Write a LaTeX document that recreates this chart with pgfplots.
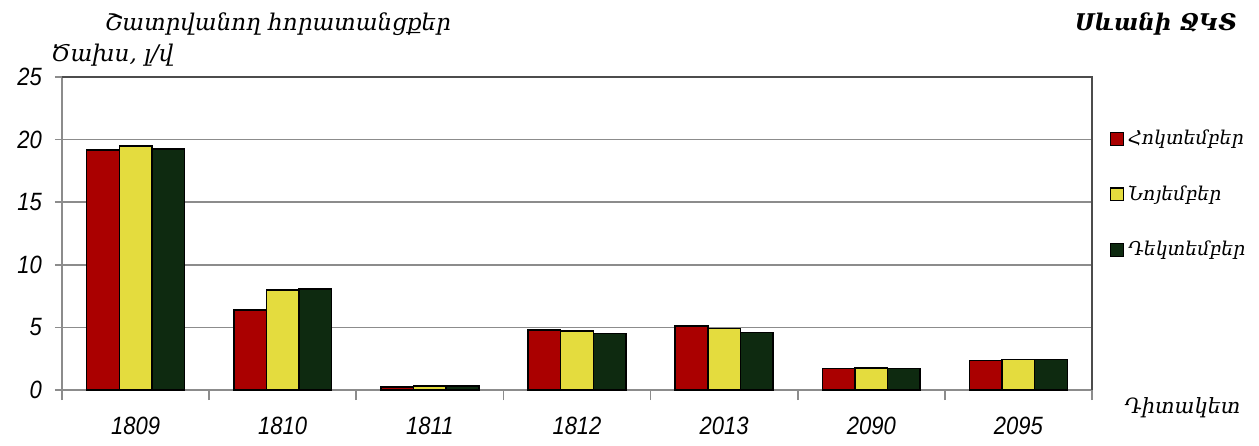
\documentclass[border=0pt]{standalone}
\usepackage{fontspec}
\setmainfont{Liberation Sans}
\newfontfamily\armfont{DejaVu Serif}
\newfontfamily\numfont{Liberation Sans}[FakeStretch=0.88]
\usepackage{pgfplots}
\pgfplotsset{compat=1.18}
\definecolor{oct}{HTML}{AA0000}
\definecolor{nov}{HTML}{E4DC3E}
\definecolor{dec}{HTML}{0E2A10}
\definecolor{axgray}{HTML}{8C8C8C}

\pgfplotstableread{
x oct nov dec
0 19.15 19.50 19.25
1 6.40 8.00 8.07
2 0.25 0.32 0.32
3 4.80 4.70 4.53
4 5.10 4.90 4.60
5 1.70 1.77 1.70
6 2.35 2.45 2.45
}\datatab

\begin{document}
\begin{tikzpicture}[x=1pt,y=1pt]
\useasboundingbox (0,0) rectangle (629.5,222.5);
\begin{axis}[
  at={(31pt,27.5pt)}, anchor=south west,
  scale only axis, width=515pt, height=156.5pt,
  ybar=0pt, bar width=16.3pt,
  xmin=-0.5, xmax=6.5, ymin=0, ymax=25,
  xtick={0,...,6},
  xticklabels={1809,1810,1811,1812,2013,2090,2095},
  minor xtick={-0.5,0.5,...,6.5},
  major x tick style={draw=none},
  minor tick length=5pt,
  ytick={0,5,...,25},
  major tick length=3.5pt,
  tick align=outside, tick pos=left,
  tick style={axgray, line width=0.8pt},
  ymajorgrids, grid style={axgray, line width=0.8pt},
  axis line style={axgray, line width=0.8pt},
  separate axis lines,
  axis x line*=bottom, axis y line*=left,
  /pgf/number format/assume math mode=true,
  tick label style={font=\fontsize{12.5}{14}\selectfont\numfont\itshape},
  xticklabel style={yshift=-6.5pt},
  yticklabel style={xshift=-3pt},
  legend style={draw=none, fill=none, at={(1.017,0.845)}, anchor=north west,
    font=\fontsize{9.5}{11}\selectfont\armfont\itshape,
    row sep=15pt, inner sep=0pt},
  legend cell align=left,
  legend image code/.code={\draw[#1,line width=0.6pt] (0pt,-3.2pt) rectangle (6.5pt,3.2pt);},
  clip=false,
]
\addplot[fill=oct, draw=black, line width=0.75pt] table[x=x,y=oct]{\datatab};
\addlegendentry{Հոկտեմբեր}
\addplot[fill=nov, draw=black, line width=0.75pt] table[x=x,y=nov]{\datatab};
\addlegendentry{Նոյեմբեր}
\addplot[fill=dec, draw=black, line width=0.75pt] table[x=x,y=dec]{\datatab};
\addlegendentry{Դեկտեմբեր}
\draw[black!70, line width=0.9pt] (rel axis cs:0,1) -- (rel axis cs:1,1) -- (rel axis cs:1,0);
\end{axis}
\node[font=\fontsize{11.5}{13}\selectfont\armfont\itshape] at (139,210.5) {Շատրվանող հորատանցքեր};
\node[anchor=west, font=\fontsize{11.5}{13}\selectfont\armfont\itshape] at (22,195) {Ծախս, լ/վ};
\node[anchor=east, font=\fontsize{11.5}{13}\selectfont\armfont\bfseries\itshape] at (622,210.5) {Սևանի ՋԿՏ};
\node[anchor=west, inner sep=0pt, font=\fontsize{10.5}{12}\selectfont\armfont\itshape] at (562,18.5) {Դիտակետ};
\end{tikzpicture}
\end{document}
